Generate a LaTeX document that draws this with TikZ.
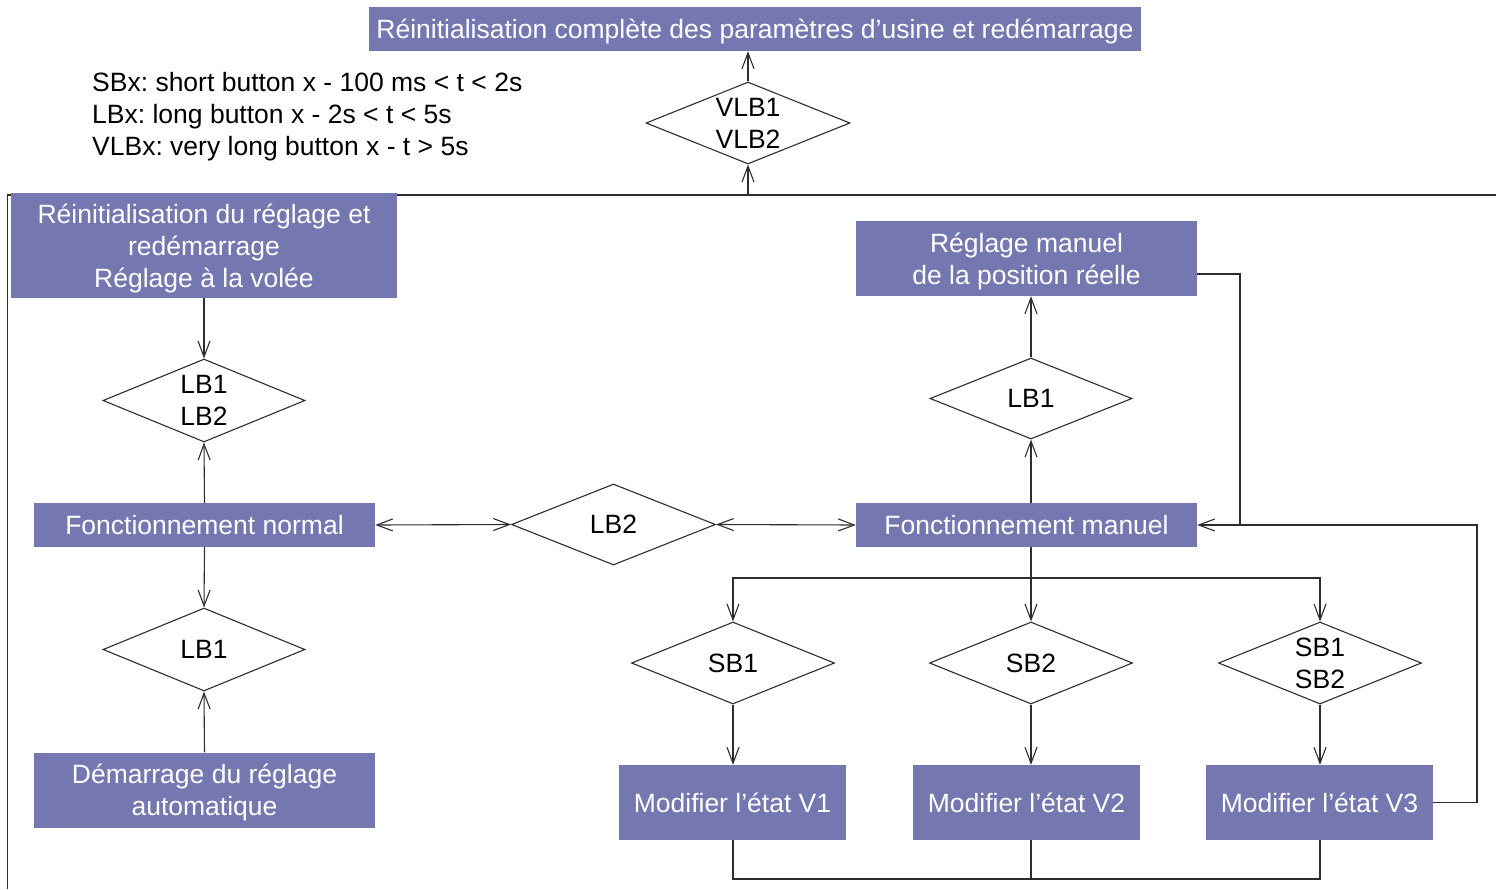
\documentclass[tikz,border=0pt]{standalone}
\usepackage{fontspec}
\setmainfont{Liberation Sans}
\usetikzlibrary{arrows.meta,shapes.geometric}
\definecolor{boxfill}{RGB}{117,119,176}
\definecolor{linec}{RGB}{45,45,45}
\frenchspacing
\tikzset{
  box/.style={rectangle, fill=boxfill, text=white, inner sep=0pt, align=center, text depth=0pt,
    font=\fontsize{26.5}{32}\selectfont},
  dia/.style={diamond, draw=linec, line width=1.1pt, inner sep=0pt, align=center, aspect=2.5,
    font=\fontsize{26.5}{32}\selectfont},
  conn/.style={draw=linec, line width=1.1pt},
  arr/.style={conn, -{Straight Barb[length=16pt,width=12pt]}},
  arrb/.style={conn, {Straight Barb[length=16pt,width=12pt]}-{Straight Barb[length=16pt,width=12pt]}},
  legend/.style={anchor=base west, inner sep=0pt, font=\fontsize{26.5}{32}\selectfont}
}
\begin{document}
\begin{tikzpicture}[x=1pt,y=-1pt]
\useasboundingbox (0,0) rectangle (1496,889);
% frame lines
\coordinate (fl1) at (7.5,889);
\coordinate (fl2) at (7.5,195);
\coordinate (fl3) at (1496,195);
\coordinate (vin) at (748,195);
\draw[conn] (fl1) -- (fl2) -- (fl3);

% legend
\node[legend] (l1) at (92,91.5) {SBx: short button x - 100 ms < t < 2s};
\node[legend] (l2) at (92,123.5) {LBx: long button x - 2s < t < 5s};
\node[legend] (l3) at (92,155.5) {VLBx: very long button x - t > 5s};

% boxes
\node[box, minimum width=772pt, minimum height=44pt] (top) at (755,29) {Réinitialisation complète des paramètres d’usine et redémarrage};
\node[box, minimum width=386pt, minimum height=105pt] (reinit) at (204,245.5) {Réinitialisation du réglage et\\redémarrage\\Réglage à la volée};
\node[box, minimum width=341pt, minimum height=44pt] (fnorm) at (204.5,525) {Fonctionnement normal};
\node[box, minimum width=341pt, minimum height=75pt] (demar) at (204.5,790) {Démarrage du réglage\\automatique};
\node[box, minimum width=341pt, minimum height=44pt] (fman) at (1026.5,525) {Fonctionnement manuel};
\node[box, minimum width=341pt, minimum height=75pt] (rm) at (1026.5,258.5) {Réglage manuel\\de la position réelle};
\node[box, minimum width=227pt, minimum height=75pt] (v1) at (732.5,802.5) {Modifier l’état V1};
\node[box, minimum width=227pt, minimum height=75pt] (v2) at (1026.5,802.5) {Modifier l’état V2};
\node[box, minimum width=227pt, minimum height=75pt] (v3) at (1319.5,802.5) {Modifier l’état V3};

% diamonds
\node[dia, minimum width=204pt, minimum height=82pt] (vlb) at (748,123) {VLB1\\VLB2};
\node[dia, minimum width=202pt, minimum height=83pt] (d1) at (204,400.5) {LB1\\LB2};
\node[dia, minimum width=202pt, minimum height=83pt] (d2) at (204,649.5) {LB1};
\node[dia, minimum width=204pt, minimum height=81pt] (dlb2) at (613.5,524.5) {LB2};
\node[dia, minimum width=202pt, minimum height=81pt] (dr) at (1031,398.5) {LB1};
\node[dia, minimum width=203pt, minimum height=82pt] (sb1) at (733,663) {SB1};
\node[dia, minimum width=203pt, minimum height=82pt] (sb2) at (1031,663) {SB2};
\node[dia, minimum width=203pt, minimum height=82pt] (sb12) at (1320,663) {SB1\\SB2};

% connectors
\draw[arr] (vin) -- (vlb.south);
\draw[arr] (vlb.north) -- (top.south -| vlb.north);
\draw[arr] (reinit.south) -- (d1.north);
\draw[arr] (fnorm.north) -- (d1.south);
\draw[arr] (fnorm.south) -- (d2.north);
\draw[arr] (demar.north) -- (d2.south);
\draw[arrb] (fnorm.east) -- (dlb2.west);
\draw[arrb] (dlb2.east) -- (fman.west);
\draw[arr] (fman.north -| dr.south) -- (dr.south);
\draw[arr] (dr.north) -- (rm.south -| dr.north);

\coordinate (j) at (1240,525);
\coordinate (rr) at (1477,525);
\draw[arr] ([yshift=-15.5pt]rm.east) -| (j) -- (fman.east);
\draw[conn] (v3.east) -| (rr) -- (j);

\coordinate (fork) at (1031,578);
\draw[conn] (fman.south -| fork) -- (fork);
\draw[arr] (fork) -- (sb2.north);
\draw[arr] (fork) -| (sb1.north);
\draw[arr] (fork) -| (sb12.north);
\draw[arr] (sb1.south) -- (v1.north -| sb1.south);
\draw[arr] (sb2.south) -- (v2.north -| sb2.south);
\draw[arr] (sb12.south) -- (v3.north -| sb12.south);

\coordinate (bot) at (1031,879);
\draw[conn] (v1.south -| sb1.south) |- (bot) -| (v3.south -| sb12.south);
\draw[conn] (v2.south -| sb2.south) -- (bot);
\end{tikzpicture}
\end{document}
